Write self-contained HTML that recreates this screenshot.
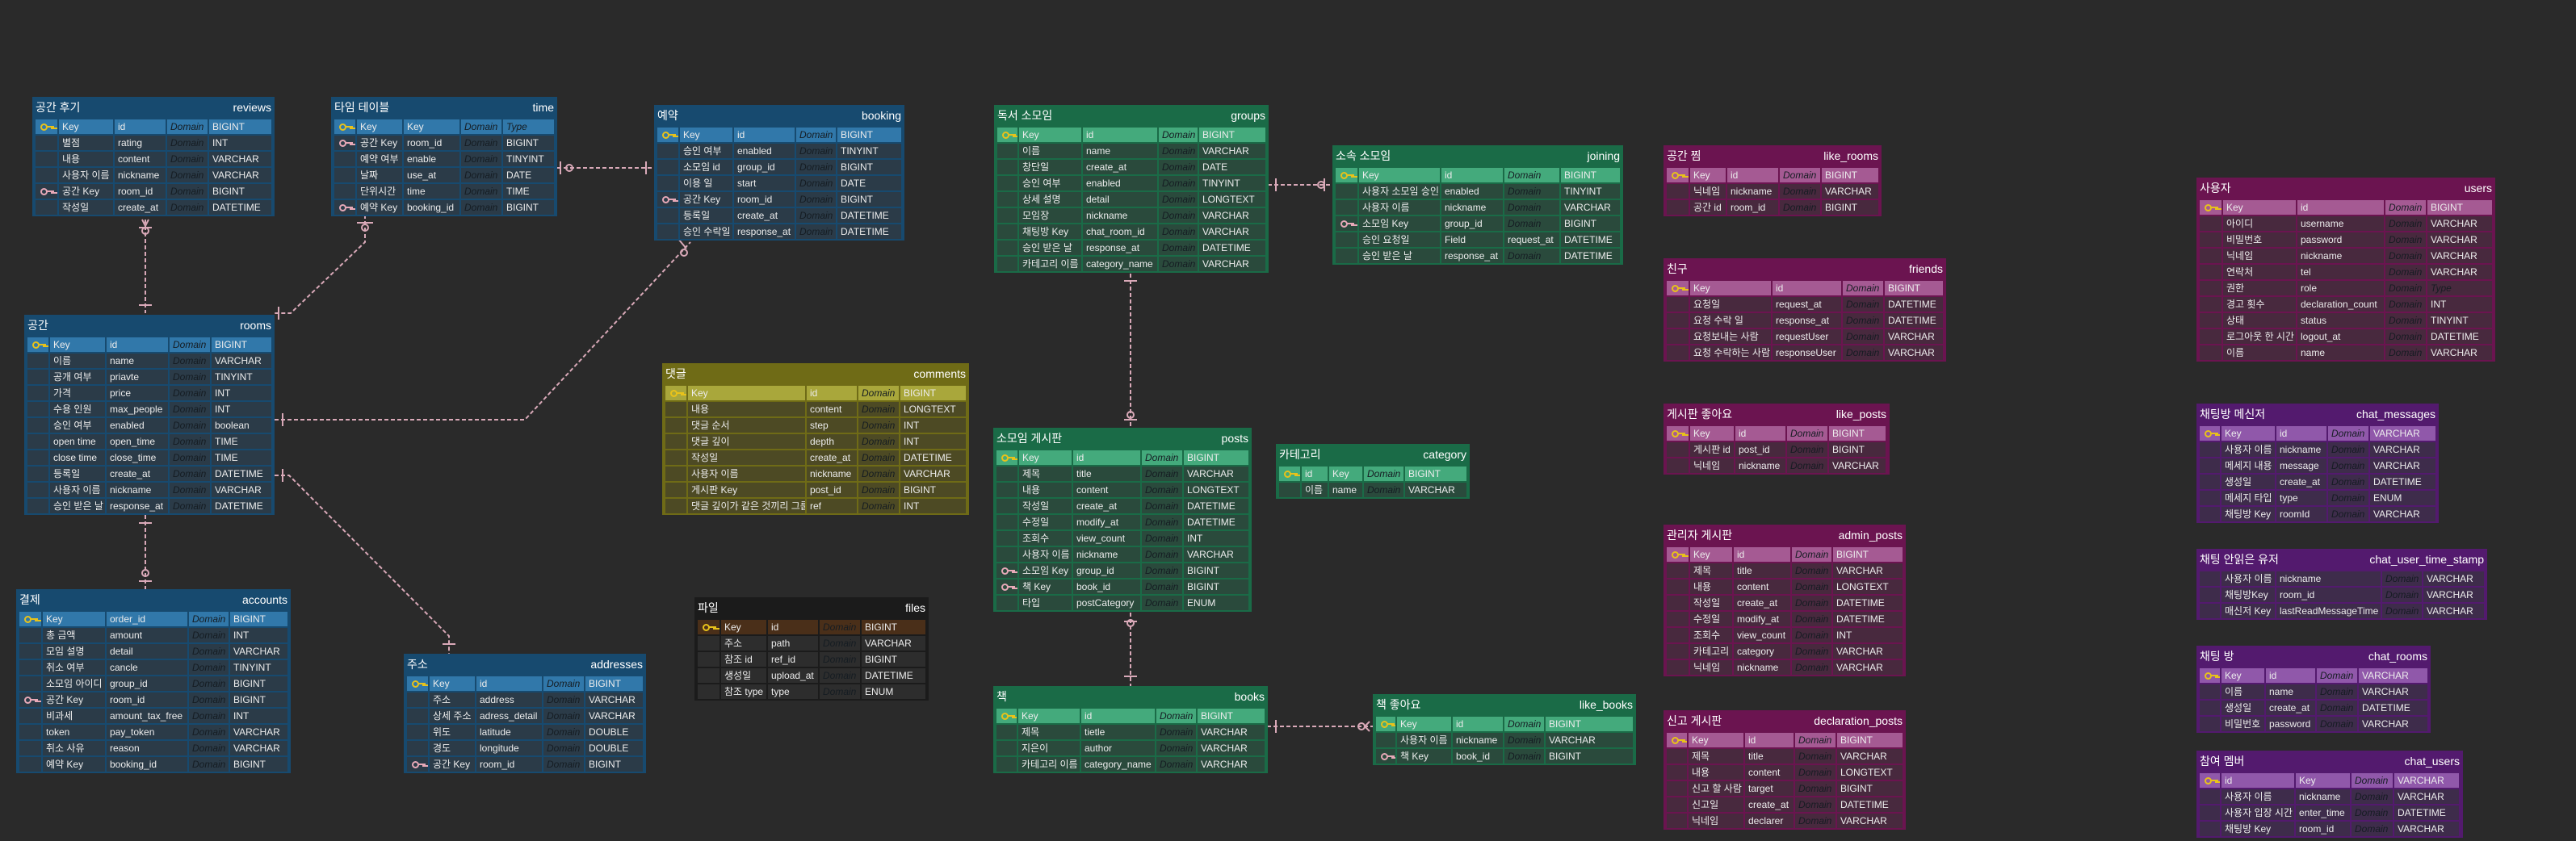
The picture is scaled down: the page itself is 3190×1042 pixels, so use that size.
<!DOCTYPE html>
<html><head><meta charset="utf-8">
<style>
*{margin:0;padding:0;box-sizing:border-box}
body{width:3190px;height:1042px;background:#2a2a2a;position:relative;overflow:hidden;font-family:"Liberation Sans","Noto Sans CJK KR",sans-serif;color:#ececec}
svg.c{position:absolute;left:0;top:0}
.t{position:absolute;padding:0 4px;}
.h{height:28px;display:flex;justify-content:space-between;align-items:center;padding:0 0 3px 0;font-size:14px;color:#fff}
.h b{font-weight:normal;font-size:14px}
.r{display:grid;grid-template-columns:var(--c);gap:2px;height:18px;margin-bottom:2px}
.r>*{display:block;font-weight:normal;font-style:normal;font-size:12px;line-height:18px;padding-left:4px;white-space:nowrap;overflow:hidden;position:relative}
.r>.d{font-style:italic;color:#151c22}
.r>.y{font-style:italic;color:#151c22}
.kg::before,.kp::before{content:"";position:absolute;left:6px;top:5px;width:5px;height:5px;border:2px solid #e8c21a;border-radius:50%}
.kg::after,.kp::after{content:"";position:absolute;left:14px;top:8px;width:9px;height:2px;background:#e8c21a;box-shadow:5px 2px 0 -0px #e8c21a}
.kp::before{border-color:#e7a9b8}.kp::after{background:#e7a9b8;box-shadow:5px 2px 0 #e7a9b8}
.blue{background:#174a6f}.blue .r>*{background:#2b3b48}.blue .k>*{background:#3178aa}
.green{background:#1a6b47}.green .r>*{background:#2a4a3c}.green .k>*{background:#44aa7c}
.olive{background:#6f6b16}.olive .r>*{background:#4d4a24}.olive .k>*{background:#a9a73b}
.mag{background:#6b1450}.mag .r>*{background:#48293e}.mag .k>*{background:#a55a93}
.pur{background:#531a6e}.pur .r>*{background:#3e2c4b}.pur .k>*{background:#9058aa}
.fil{background:#1b1b1b}.fil .r>*{background:#2d2d2d}.fil .k>*{background:#4a2f19}
</style></head><body>
<svg class="c" width="3190" height="1042" fill="none" stroke="#d9a9b8" stroke-width="2">
<g stroke-dasharray="5,3">
<path d="M180 272V388"/>
<path d="M452 266V300L360 388H340"/>
<path d="M690 208H810"/>
<path d="M340 520H650L855 300"/>
<path d="M340 589H358L556 788V810"/>
<path d="M180 638V730"/>
<path d="M1570 229H1650"/>
<path d="M1400 339V530"/>
<path d="M1400 759V850"/>
<path d="M1569 900H1700"/>
</g>
<g>
<path d="M172 378H188M172 282H188M176 272L180 280L184 272"/><circle cx="180" cy="286" r="4"/>
<path d="M345 380V396M442 276H462"/><circle cx="452" cy="282" r="4"/>
<path d="M694 200V216M800 200V216"/><circle cx="705" cy="208" r="4"/>
<path d="M350 512V528M840 296L850 308"/><circle cx="847" cy="313" r="4"/>
<path d="M350 581V597M548 798H564"/>
<path d="M172 648H188M172 720H188"/><circle cx="180" cy="710" r="4"/>
<path d="M1580 221V237M1640 221V237"/><circle cx="1636" cy="229" r="4"/>
<path d="M1392 348H1408M1392 520H1408"/><circle cx="1400" cy="514" r="4"/>
<path d="M1392 838H1408M1392 770H1408"/><circle cx="1400" cy="772" r="4"/>
<path d="M1580 892V908M1696 894L1690 900L1696 906"/><circle cx="1686" cy="900" r="4"/>
</g>
</svg>

<div class="t blue" style="left:40px;top:120px;width:300px;--c:27px 67px 63px 50px 77px">
<div class="h"><span>공간 후기</span><b>reviews</b></div>
<div class="r k"><b class="kg"></b><b>Key</b><b>id</b><b class="d">Domain</b><b>BIGINT</b></div>
<div class="r"><b></b><b>별점</b><b>rating</b><b class="d">Domain</b><b>INT</b></div>
<div class="r"><b></b><b>내용</b><b>content</b><b class="d">Domain</b><b>VARCHAR</b></div>
<div class="r"><b></b><b>사용자 이름</b><b>nickname</b><b class="d">Domain</b><b>VARCHAR</b></div>
<div class="r"><b class="kp"></b><b>공간 Key</b><b>room_id</b><b class="d">Domain</b><b>BIGINT</b></div>
<div class="r"><b></b><b>작성일</b><b>create_at</b><b class="d">Domain</b><b>DATETIME</b></div>
</div>

<div class="t blue" style="left:410px;top:120px;width:280px;--c:26px 56px 69px 50px 63px">
<div class="h"><span>타임 테이블</span><b>time</b></div>
<div class="r k"><b class="kg"></b><b>Key</b><b>Key</b><b class="d">Domain</b><b class="y">Type</b></div>
<div class="r"><b class="kp"></b><b>공간 Key</b><b>room_id</b><b class="d">Domain</b><b>BIGINT</b></div>
<div class="r"><b></b><b>예약 여부</b><b>enable</b><b class="d">Domain</b><b>TINYINT</b></div>
<div class="r"><b></b><b>날짜</b><b>use_at</b><b class="d">Domain</b><b>DATE</b></div>
<div class="r"><b></b><b>단위시간</b><b>time</b><b class="d">Domain</b><b>TIME</b></div>
<div class="r"><b class="kp"></b><b>예약 Key</b><b>booking_id</b><b class="d">Domain</b><b>BIGINT</b></div>
</div>

<div class="t blue" style="left:810px;top:130px;width:310px;--c:26px 65px 75px 49px 79px">
<div class="h"><span>예약</span><b>booking</b></div>
<div class="r k"><b class="kg"></b><b>Key</b><b>id</b><b class="d">Domain</b><b>BIGINT</b></div>
<div class="r"><b></b><b>승인 여부</b><b>enabled</b><b class="d">Domain</b><b>TINYINT</b></div>
<div class="r"><b></b><b>소모임 id</b><b>group_id</b><b class="d">Domain</b><b>BIGINT</b></div>
<div class="r"><b></b><b>이용 일</b><b>start</b><b class="d">Domain</b><b>DATE</b></div>
<div class="r"><b class="kp"></b><b>공간 Key</b><b>room_id</b><b class="d">Domain</b><b>BIGINT</b></div>
<div class="r"><b></b><b>등록일</b><b>create_at</b><b class="d">Domain</b><b>DATETIME</b></div>
<div class="r"><b></b><b>승인 수락일</b><b>response_at</b><b class="d">Domain</b><b>DATETIME</b></div>
</div>

<div class="t blue" style="left:30px;top:390px;width:310px;--c:26px 68px 76px 50px 74px">
<div class="h"><span>공간</span><b>rooms</b></div>
<div class="r k"><b class="kg"></b><b>Key</b><b>id</b><b class="d">Domain</b><b>BIGINT</b></div>
<div class="r"><b></b><b>이름</b><b>name</b><b class="d">Domain</b><b>VARCHAR</b></div>
<div class="r"><b></b><b>공개 여부</b><b>priavte</b><b class="d">Domain</b><b>TINYINT</b></div>
<div class="r"><b></b><b>가격</b><b>price</b><b class="d">Domain</b><b>INT</b></div>
<div class="r"><b></b><b>수용 인원</b><b>max_people</b><b class="d">Domain</b><b>INT</b></div>
<div class="r"><b></b><b>승인 여부</b><b>enabled</b><b class="d">Domain</b><b>boolean</b></div>
<div class="r"><b></b><b>open time</b><b>open_time</b><b class="d">Domain</b><b>TIME</b></div>
<div class="r"><b></b><b>close time</b><b>close_time</b><b class="d">Domain</b><b>TIME</b></div>
<div class="r"><b></b><b>등록일</b><b>create_at</b><b class="d">Domain</b><b>DATETIME</b></div>
<div class="r"><b></b><b>사용자 이름</b><b>nickname</b><b class="d">Domain</b><b>VARCHAR</b></div>
<div class="r"><b></b><b>승인 받은 날</b><b>response_at</b><b class="d">Domain</b><b>DATETIME</b></div>
</div>

<div class="t blue" style="left:20px;top:730px;width:340px;--c:27px 77px 100px 49px 71px">
<div class="h"><span>결제</span><b>accounts</b></div>
<div class="r k"><b class="kg"></b><b>Key</b><b>order_id</b><b class="d">Domain</b><b>BIGINT</b></div>
<div class="r"><b></b><b>총 금액</b><b>amount</b><b class="d">Domain</b><b>INT</b></div>
<div class="r"><b></b><b>모임 설명</b><b>detail</b><b class="d">Domain</b><b>VARCHAR</b></div>
<div class="r"><b></b><b>취소 여부</b><b>cancle</b><b class="d">Domain</b><b>TINYINT</b></div>
<div class="r"><b></b><b>소모임 아이디</b><b>group_id</b><b class="d">Domain</b><b>BIGINT</b></div>
<div class="r"><b class="kp"></b><b>공간 Key</b><b>room_id</b><b class="d">Domain</b><b>BIGINT</b></div>
<div class="r"><b></b><b>비과세</b><b>amount_tax_free</b><b class="d">Domain</b><b>INT</b></div>
<div class="r"><b></b><b>token</b><b>pay_token</b><b class="d">Domain</b><b>VARCHAR</b></div>
<div class="r"><b></b><b>취소 사유</b><b>reason</b><b class="d">Domain</b><b>VARCHAR</b></div>
<div class="r"><b></b><b>예약 Key</b><b>booking_id</b><b class="d">Domain</b><b>BIGINT</b></div>
</div>

<div class="t blue" style="left:500px;top:810px;width:300px;--c:26px 56px 81px 50px 71px">
<div class="h"><span>주소</span><b>addresses</b></div>
<div class="r k"><b class="kg"></b><b>Key</b><b>id</b><b class="d">Domain</b><b>BIGINT</b></div>
<div class="r"><b></b><b>주소</b><b>address</b><b class="d">Domain</b><b>VARCHAR</b></div>
<div class="r"><b></b><b>상세 주소</b><b>adress_detail</b><b class="d">Domain</b><b>VARCHAR</b></div>
<div class="r"><b></b><b>위도</b><b>latitude</b><b class="d">Domain</b><b>DOUBLE</b></div>
<div class="r"><b></b><b>경도</b><b>longitude</b><b class="d">Domain</b><b>DOUBLE</b></div>
<div class="r"><b class="kp"></b><b>공간 Key</b><b>room_id</b><b class="d">Domain</b><b>BIGINT</b></div>
</div>

<div class="t olive" style="left:820px;top:450px;width:380px;--c:26px 145px 62px 50px 81px">
<div class="h"><span>댓글</span><b>comments</b></div>
<div class="r k"><b class="kg"></b><b>Key</b><b>id</b><b class="d">Domain</b><b>BIGINT</b></div>
<div class="r"><b></b><b>내용</b><b>content</b><b class="d">Domain</b><b>LONGTEXT</b></div>
<div class="r"><b></b><b>댓글 순서</b><b>step</b><b class="d">Domain</b><b>INT</b></div>
<div class="r"><b></b><b>댓글 깊이</b><b>depth</b><b class="d">Domain</b><b>INT</b></div>
<div class="r"><b></b><b>작성일</b><b>create_at</b><b class="d">Domain</b><b>DATETIME</b></div>
<div class="r"><b></b><b>사용자 이름</b><b>nickname</b><b class="d">Domain</b><b>VARCHAR</b></div>
<div class="r"><b></b><b>게시판 Key</b><b>post_id</b><b class="d">Domain</b><b>BIGINT</b></div>
<div class="r"><b></b><b>댓글 깊이가 같은 것끼리 그룹</b><b>ref</b><b class="d">Domain</b><b>INT</b></div>
</div>

<div class="t fil" style="left:860px;top:740px;width:290px;--c:27px 56px 62px 50px 79px">
<div class="h"><span>파일</span><b>files</b></div>
<div class="r k"><b class="kg"></b><b>Key</b><b>id</b><b class="d">Domain</b><b>BIGINT</b></div>
<div class="r"><b></b><b>주소</b><b>path</b><b class="d">Domain</b><b>VARCHAR</b></div>
<div class="r"><b></b><b>참조 id</b><b>ref_id</b><b class="d">Domain</b><b>BIGINT</b></div>
<div class="r"><b></b><b>생성일</b><b>upload_at</b><b class="d">Domain</b><b>DATETIME</b></div>
<div class="r"><b></b><b>참조 type</b><b>type</b><b class="d">Domain</b><b>ENUM</b></div>
</div>

<div class="t green" style="left:1231px;top:130px;width:340px;--c:25px 77px 92px 48px 82px">
<div class="h"><span>독서 소모임</span><b>groups</b></div>
<div class="r k"><b class="kg"></b><b>Key</b><b>id</b><b class="d">Domain</b><b>BIGINT</b></div>
<div class="r"><b></b><b>이름</b><b>name</b><b class="d">Domain</b><b>VARCHAR</b></div>
<div class="r"><b></b><b>창단일</b><b>create_at</b><b class="d">Domain</b><b>DATE</b></div>
<div class="r"><b></b><b>승인 여부</b><b>enabled</b><b class="d">Domain</b><b>TINYINT</b></div>
<div class="r"><b></b><b>상세 설명</b><b>detail</b><b class="d">Domain</b><b>LONGTEXT</b></div>
<div class="r"><b></b><b>모임장</b><b>nickname</b><b class="d">Domain</b><b>VARCHAR</b></div>
<div class="r"><b></b><b>채팅방 Key</b><b>chat_room_id</b><b class="d">Domain</b><b>VARCHAR</b></div>
<div class="r"><b></b><b>승인 받은 날</b><b>response_at</b><b class="d">Domain</b><b>DATETIME</b></div>
<div class="r"><b></b><b>카테고리 이름</b><b>category_name</b><b class="d">Domain</b><b>VARCHAR</b></div>
</div>

<div class="t green" style="left:1650px;top:180px;width:360px;--c:27px 100px 76px 68px 73px">
<div class="h"><span>소속 소모임</span><b>joining</b></div>
<div class="r k"><b class="kg"></b><b>Key</b><b>id</b><b class="d">Domain</b><b>BIGINT</b></div>
<div class="r"><b></b><b>사용자 소모임 승인</b><b>enabled</b><b class="d">Domain</b><b>TINYINT</b></div>
<div class="r"><b></b><b>사용자 이름</b><b>nickname</b><b class="d">Domain</b><b>VARCHAR</b></div>
<div class="r"><b class="kp"></b><b>소모임 Key</b><b>group_id</b><b class="d">Domain</b><b>BIGINT</b></div>
<div class="r"><b></b><b>승인 요청일</b><b>Field</b><b>request_at</b><b>DATETIME</b></div>
<div class="r"><b></b><b>승인 받은 날</b><b>response_at</b><b class="d">Domain</b><b>DATETIME</b></div>
</div>

<div class="t green" style="left:1230px;top:530px;width:320px;--c:26px 65px 83px 50px 80px">
<div class="h"><span>소모임 게시판</span><b>posts</b></div>
<div class="r k"><b class="kg"></b><b>Key</b><b>id</b><b class="d">Domain</b><b>BIGINT</b></div>
<div class="r"><b></b><b>제목</b><b>title</b><b class="d">Domain</b><b>VARCHAR</b></div>
<div class="r"><b></b><b>내용</b><b>content</b><b class="d">Domain</b><b>LONGTEXT</b></div>
<div class="r"><b></b><b>작성일</b><b>create_at</b><b class="d">Domain</b><b>DATETIME</b></div>
<div class="r"><b></b><b>수정일</b><b>modify_at</b><b class="d">Domain</b><b>DATETIME</b></div>
<div class="r"><b></b><b>조회수</b><b>view_count</b><b class="d">Domain</b><b>INT</b></div>
<div class="r"><b></b><b>사용자 이름</b><b>nickname</b><b class="d">Domain</b><b>VARCHAR</b></div>
<div class="r"><b class="kp"></b><b>소모임 Key</b><b>group_id</b><b class="d">Domain</b><b>BIGINT</b></div>
<div class="r"><b class="kp"></b><b>책 Key</b><b>book_id</b><b class="d">Domain</b><b>BIGINT</b></div>
<div class="r"><b></b><b>타입</b><b>postCategory</b><b class="d">Domain</b><b>ENUM</b></div>
</div>

<div class="t green" style="left:1580px;top:550px;width:240px;--c:26px 32px 41px 49px 76px">
<div class="h"><span>카테고리</span><b>category</b></div>
<div class="r k"><b class="kg"></b><b>id</b><b>Key</b><b class="d">Domain</b><b>BIGINT</b></div>
<div class="r"><b></b><b>이름</b><b>name</b><b class="d">Domain</b><b>VARCHAR</b></div>
</div>

<div class="t green" style="left:1230px;top:850px;width:340px;--c:25px 76px 91px 49px 83px">
<div class="h"><span>책</span><b>books</b></div>
<div class="r k"><b class="kg"></b><b>Key</b><b>id</b><b class="d">Domain</b><b>BIGINT</b></div>
<div class="r"><b></b><b>제목</b><b>tietle</b><b class="d">Domain</b><b>VARCHAR</b></div>
<div class="r"><b></b><b>지은이</b><b>author</b><b class="d">Domain</b><b>VARCHAR</b></div>
<div class="r"><b></b><b>카테고리 이름</b><b>category_name</b><b class="d">Domain</b><b>VARCHAR</b></div>
</div>

<div class="t green" style="left:1700px;top:860px;width:326px;--c:24px 67px 62px 49px 108px">
<div class="h"><span>책 좋아요</span><b>like_books</b></div>
<div class="r k"><b class="kg"></b><b>Key</b><b>id</b><b class="d">Domain</b><b>BIGINT</b></div>
<div class="r"><b></b><b>사용자 이름</b><b>nickname</b><b class="d">Domain</b><b>VARCHAR</b></div>
<div class="r"><b class="kp"></b><b>책 Key</b><b>book_id</b><b class="d">Domain</b><b>BIGINT</b></div>
</div>

<div class="t mag" style="left:2060px;top:180px;width:270px;--c:27px 44px 63px 50px 70px">
<div class="h"><span>공간 찜</span><b>like_rooms</b></div>
<div class="r k"><b class="kg"></b><b>Key</b><b>id</b><b class="d">Domain</b><b>BIGINT</b></div>
<div class="r"><b></b><b>닉네임</b><b>nickname</b><b class="d">Domain</b><b>VARCHAR</b></div>
<div class="r"><b></b><b>공간 id</b><b>room_id</b><b class="d">Domain</b><b>BIGINT</b></div>
</div>

<div class="t mag" style="left:2060px;top:320px;width:350px;--c:27px 100px 85px 50px 72px">
<div class="h"><span>친구</span><b>friends</b></div>
<div class="r k"><b class="kg"></b><b>Key</b><b>id</b><b class="d">Domain</b><b>BIGINT</b></div>
<div class="r"><b></b><b>요청일</b><b>request_at</b><b class="d">Domain</b><b>DATETIME</b></div>
<div class="r"><b></b><b>요청 수락 일</b><b>response_at</b><b class="d">Domain</b><b>DATETIME</b></div>
<div class="r"><b></b><b>요청보내는 사람</b><b>requestUser</b><b class="d">Domain</b><b>VARCHAR</b></div>
<div class="r"><b></b><b>요청 수락하는 사람</b><b>responseUser</b><b class="d">Domain</b><b>VARCHAR</b></div>
</div>

<div class="t mag" style="left:2060px;top:500px;width:280px;--c:27px 54px 62px 50px 70px">
<div class="h"><span>게시판 좋아요</span><b>like_posts</b></div>
<div class="r k"><b class="kg"></b><b>Key</b><b>id</b><b class="d">Domain</b><b>BIGINT</b></div>
<div class="r"><b></b><b>게시판 id</b><b>post_id</b><b class="d">Domain</b><b>BIGINT</b></div>
<div class="r"><b></b><b>닉네임</b><b>nickname</b><b class="d">Domain</b><b>VARCHAR</b></div>
</div>

<div class="t mag" style="left:2060px;top:650px;width:300px;--c:27px 52px 70px 49px 86px">
<div class="h"><span>관리자 게시판</span><b>admin_posts</b></div>
<div class="r k"><b class="kg"></b><b>Key</b><b>id</b><b class="d">Domain</b><b>BIGINT</b></div>
<div class="r"><b></b><b>제목</b><b>title</b><b class="d">Domain</b><b>VARCHAR</b></div>
<div class="r"><b></b><b>내용</b><b>content</b><b class="d">Domain</b><b>LONGTEXT</b></div>
<div class="r"><b></b><b>작성일</b><b>create_at</b><b class="d">Domain</b><b>DATETIME</b></div>
<div class="r"><b></b><b>수정일</b><b>modify_at</b><b class="d">Domain</b><b>DATETIME</b></div>
<div class="r"><b></b><b>조회수</b><b>view_count</b><b class="d">Domain</b><b>INT</b></div>
<div class="r"><b></b><b>카테고리</b><b>category</b><b class="d">Domain</b><b>VARCHAR</b></div>
<div class="r"><b></b><b>닉네임</b><b>nickname</b><b class="d">Domain</b><b>VARCHAR</b></div>
</div>

<div class="t mag" style="left:2060px;top:880px;width:300px;--c:25px 68px 60px 50px 81px">
<div class="h"><span>신고 게시판</span><b>declaration_posts</b></div>
<div class="r k"><b class="kg"></b><b>Key</b><b>id</b><b class="d">Domain</b><b>BIGINT</b></div>
<div class="r"><b></b><b>제목</b><b>title</b><b class="d">Domain</b><b>VARCHAR</b></div>
<div class="r"><b></b><b>내용</b><b>content</b><b class="d">Domain</b><b>LONGTEXT</b></div>
<div class="r"><b></b><b>신고 할 사람</b><b>target</b><b class="d">Domain</b><b>BIGINT</b></div>
<div class="r"><b></b><b>신고일</b><b>create_at</b><b class="d">Domain</b><b>DATETIME</b></div>
<div class="r"><b></b><b>닉네임</b><b>declarer</b><b class="d">Domain</b><b>VARCHAR</b></div>
</div>

<div class="t mag" style="left:2720px;top:220px;width:370px;--c:27px 90px 107px 50px 80px">
<div class="h"><span>사용자</span><b>users</b></div>
<div class="r k"><b class="kg"></b><b>Key</b><b>id</b><b class="d">Domain</b><b>BIGINT</b></div>
<div class="r"><b></b><b>아이디</b><b>username</b><b class="d">Domain</b><b>VARCHAR</b></div>
<div class="r"><b></b><b>비밀번호</b><b>password</b><b class="d">Domain</b><b>VARCHAR</b></div>
<div class="r"><b></b><b>닉네임</b><b>nickname</b><b class="d">Domain</b><b>VARCHAR</b></div>
<div class="r"><b></b><b>연락처</b><b>tel</b><b class="d">Domain</b><b>VARCHAR</b></div>
<div class="r"><b></b><b>권한</b><b>role</b><b class="d">Domain</b><b class="y">Type</b></div>
<div class="r"><b></b><b>경고 횟수</b><b>declaration_count</b><b class="d">Domain</b><b>INT</b></div>
<div class="r"><b></b><b>상태</b><b>status</b><b class="d">Domain</b><b>TINYINT</b></div>
<div class="r"><b></b><b>로그아웃 한 시간</b><b>logout_at</b><b class="d">Domain</b><b>DATETIME</b></div>
<div class="r"><b></b><b>이름</b><b>name</b><b class="d">Domain</b><b>VARCHAR</b></div>
</div>

<div class="t pur" style="left:2720px;top:500px;width:300px;--c:25px 66px 62px 50px 81px">
<div class="h"><span>채팅방 메신저</span><b>chat_messages</b></div>
<div class="r k"><b class="kg"></b><b>Key</b><b>id</b><b class="d">Domain</b><b>VARCHAR</b></div>
<div class="r"><b></b><b>사용자 이름</b><b>nickname</b><b class="d">Domain</b><b>VARCHAR</b></div>
<div class="r"><b></b><b>메세지 내용</b><b>message</b><b class="d">Domain</b><b>VARCHAR</b></div>
<div class="r"><b></b><b>생성일</b><b>create_at</b><b class="d">Domain</b><b>DATETIME</b></div>
<div class="r"><b></b><b>메세지 타입</b><b>type</b><b class="d">Domain</b><b>ENUM</b></div>
<div class="r"><b></b><b>채팅방 Key</b><b>roomId</b><b class="d">Domain</b><b>VARCHAR</b></div>
</div>

<div class="t pur" style="left:2720px;top:680px;width:360px;--c:25px 66px 129px 49px 75px">
<div class="h"><span>채팅 안읽은 유저</span><b>chat_user_time_stamp</b></div>
<div class="r"><b></b><b>사용자 이름</b><b>nickname</b><b class="d">Domain</b><b>VARCHAR</b></div>
<div class="r"><b></b><b>채팅방Key</b><b>room_id</b><b class="d">Domain</b><b>VARCHAR</b></div>
<div class="r"><b></b><b>매신저 Key</b><b>lastReadMessageTime</b><b class="d">Domain</b><b>VARCHAR</b></div>
</div>

<div class="t pur" style="left:2720px;top:800px;width:290px;--c:25px 53px 61px 50px 85px">
<div class="h"><span>채팅 방</span><b>chat_rooms</b></div>
<div class="r k"><b class="kg"></b><b>Key</b><b>id</b><b class="d">Domain</b><b>VARCHAR</b></div>
<div class="r"><b></b><b>이름</b><b>name</b><b class="d">Domain</b><b>VARCHAR</b></div>
<div class="r"><b></b><b>생성일</b><b>create_at</b><b class="d">Domain</b><b>DATETIME</b></div>
<div class="r"><b></b><b>비밀번호</b><b>password</b><b class="d">Domain</b><b>VARCHAR</b></div>
</div>

<div class="t pur" style="left:2720px;top:930px;width:330px;--c:25px 90px 67px 51px 80px">
<div class="h"><span>참여 멤버</span><b>chat_users</b></div>
<div class="r k"><b class="kg"></b><b>id</b><b>Key</b><b class="d">Domain</b><b>VARCHAR</b></div>
<div class="r"><b></b><b>사용자 이름</b><b>nickname</b><b class="d">Domain</b><b>VARCHAR</b></div>
<div class="r"><b></b><b>사용자 입장 시간</b><b>enter_time</b><b class="d">Domain</b><b>DATETIME</b></div>
<div class="r"><b></b><b>채팅방 Key</b><b>room_id</b><b class="d">Domain</b><b>VARCHAR</b></div>
</div>

</body></html>
